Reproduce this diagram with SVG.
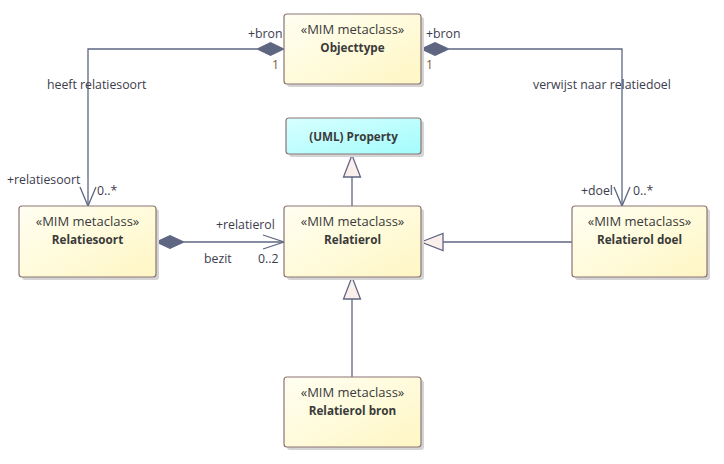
<svg xmlns="http://www.w3.org/2000/svg" width="724" height="464" viewBox="0 0 724 464">
<defs>
<linearGradient id="gy" x1="0" y1="0" x2="1" y2="1">
<stop offset="0" stop-color="#FFFFF2"/>
<stop offset="1" stop-color="#FFF6C4"/>
</linearGradient>
<linearGradient id="gc" x1="0" y1="0" x2="1" y2="1">
<stop offset="0" stop-color="#D8FFFF"/>
<stop offset="1" stop-color="#A4FCFC"/>
</linearGradient>
<style>
.sh{fill:#D4D4D4;}
.box{fill:url(#gy);stroke:#8C7474;stroke-width:1.2;}
.boxc{fill:url(#gc);stroke:#8C7474;stroke-width:1.2;}
.st{font-family:"Open Sans","Liberation Sans",sans-serif;font-size:13px;fill:#3A3A3A;text-anchor:middle;}
.nm{font-family:"Open Sans","Liberation Sans",sans-serif;font-size:11.7px;font-weight:bold;fill:#3A3A3A;text-anchor:middle;}
.lb{font-family:"Open Sans","Liberation Sans",sans-serif;font-size:12.3px;fill:#3C3C4C;}
.mu{font-family:"Open Sans","Liberation Sans",sans-serif;font-size:12.3px;fill:#7A5A3C;}
.ln{fill:none;stroke:#5E6682;stroke-width:1.3;}
.dia{fill:#5E6682;stroke:#5E6682;stroke-width:1;}
.tri{fill:#FBEFEC;stroke:#5E6682;stroke-width:1.3;}
</style>
</defs>
<g id="connectors">
<path class="ln" d="M257,49 H88 V206"/>
<polygon class="dia" points="284,49 270.5,42.5 257,49 270.5,55.5"/>
<path class="ln" d="M80,187 L88,206 L96,187"/>
<path class="ln" d="M449,49 H622 V206"/>
<polygon class="dia" points="421,49 435,42.5 449,49 435,55.5"/>
<path class="ln" d="M614,187 L622,206 L630,187"/>
<path class="ln" d="M184,242 H284"/>
<polygon class="dia" points="156,242 170,235.5 184,242 170,248.5"/>
<path class="ln" d="M263,235 L284,242 L263,249"/>
<path class="ln" d="M352,206 V177"/>
<polygon class="tri" points="352,155 343.5,177 360.5,177"/>
<path class="ln" d="M352,377 V299"/>
<polygon class="tri" points="352,277 343.5,299 360.5,299"/>
<path class="ln" d="M572,242 H443"/>
<polygon class="tri" points="421,242 443,233.5 443,250.5"/>
<text class="lb" x="248" y="38">+bron</text>
<text class="mu" x="272" y="69">1</text>
<text class="lb" x="426" y="38">+bron</text>
<text class="mu" x="426" y="69">1</text>
<text class="lb" x="47" y="89">heeft relatiesoort</text>
<text class="lb" x="533" y="89">verwijst naar relatiedoel</text>
<text class="lb" x="7" y="184">+relatiesoort</text>
<text class="lb" x="97" y="195">0..*</text>
<text class="lb" x="581" y="195">+doel</text>
<text class="lb" x="633" y="195">0..*</text>
<text class="lb" x="216" y="229">+relatierol</text>
<text class="lb" x="204" y="263">bezit</text>
<text class="lb" x="258" y="263">0..2</text>
</g>
<g id="objecttype">
<rect class="sh" x="287" y="17" width="137" height="70" rx="3"/>
<rect class="box" x="284" y="14" width="137" height="70" rx="3"/>
<text class="st" x="352.5" y="34">«MIM metaclass»</text>
<text class="nm" x="352.5" y="52">Objecttype</text>
</g>
<g id="property">
<rect class="sh" x="289" y="121" width="135" height="36" rx="3"/>
<rect class="boxc" x="286" y="118" width="135" height="36" rx="3"/>
<text class="nm" x="353.5" y="141">(UML) Property</text>
</g>
<g id="relatiesoort">
<rect class="sh" x="22" y="209" width="137" height="71" rx="3"/>
<rect class="box" x="19" y="206" width="137" height="71" rx="3"/>
<text class="st" x="87.5" y="226">«MIM metaclass»</text>
<text class="nm" x="87.5" y="244">Relatiesoort</text>
</g>
<g id="relatierol">
<rect class="sh" x="287" y="209" width="137" height="71" rx="3"/>
<rect class="box" x="284" y="206" width="137" height="71" rx="3"/>
<text class="st" x="352.5" y="226">«MIM metaclass»</text>
<text class="nm" x="352.5" y="244">Relatierol</text>
</g>
<g id="relatierol-doel">
<rect class="sh" x="575" y="209" width="135" height="71" rx="3"/>
<rect class="box" x="572" y="206" width="135" height="71" rx="3"/>
<text class="st" x="639.5" y="226">«MIM metaclass»</text>
<text class="nm" x="639.5" y="244">Relatierol doel</text>
</g>
<g id="relatierol-bron">
<rect class="sh" x="287" y="380" width="137" height="70" rx="3"/>
<rect class="box" x="284" y="377" width="137" height="70" rx="3"/>
<text class="st" x="352.5" y="397">«MIM metaclass»</text>
<text class="nm" x="352.5" y="415">Relatierol bron</text>
</g>
</svg>
